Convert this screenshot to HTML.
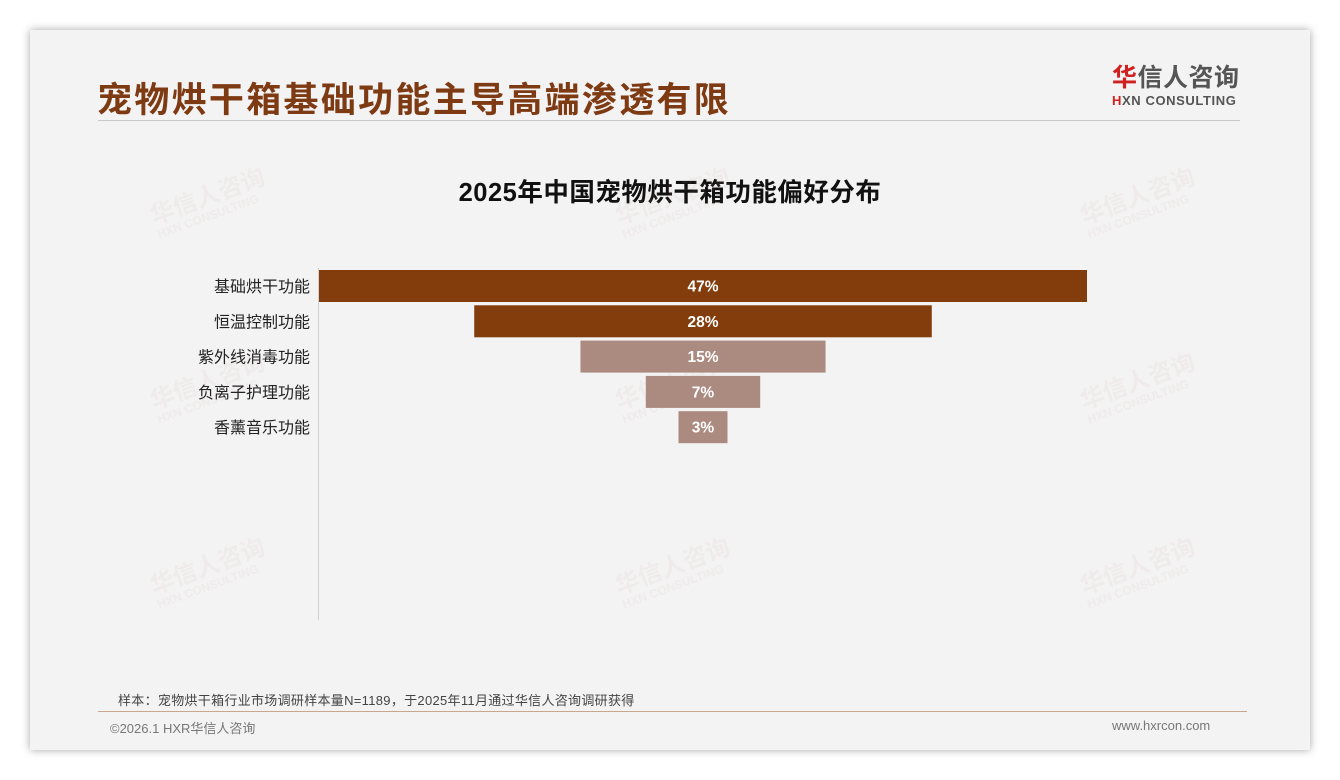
<!DOCTYPE html>
<html><head><meta charset="utf-8">
<style>
body{margin:0;width:1340px;height:780px;background:#fff;position:relative;overflow:hidden;font-family:"Liberation Sans","Noto Sans CJK SC",sans-serif}
.card{position:absolute;left:30px;top:30px;width:1280px;height:720px;background:#f3f3f3;box-shadow:0 0 8px rgba(0,0,0,0.35)}
.abs{position:absolute;white-space:nowrap}
.wm{position:absolute;transform:rotate(-20deg);color:rgba(200,150,150,0.09);font-weight:bold;line-height:1}
</style></head><body>
<div class="card"></div>
<div class="abs" style="left:97px;top:72px;font-size:35px;font-weight:bold;color:#7e3a12;letter-spacing:2.3px">宠物烘干箱基础功能主导高端渗透有限</div>
<div class="abs" style="left:1112px;top:63px;width:130px">
<div style="font-size:25px;font-weight:bold;color:#555;line-height:30px;letter-spacing:0.5px"><span style="color:#d02020">华</span>信人咨询</div>
<div style="font-size:13px;font-weight:bold;color:#555;letter-spacing:0.6px"><span style="color:#d02020">H</span>XN CONSULTING</div>
</div>
<div class="abs" style="left:98px;top:120px;width:1142px;height:1px;background:#c8c8c8"></div>
<div class="abs" style="left:370px;top:172px;width:600px;text-align:center;font-size:25.5px;font-weight:bold;color:#111;letter-spacing:0.5px">2025年中国宠物烘干箱功能偏好分布</div>
<div id="wms"></div>
<svg class="abs" style="left:0;top:0" width="1340" height="780" id="chart"></svg>
<div class="abs" style="left:118px;top:690px;font-size:13px;color:#444;letter-spacing:0.3px">样本：宠物烘干箱行业市场调研样本量N=1189，于2025年11月通过华信人咨询调研获得</div>
<div class="abs" style="left:98px;top:711px;width:1149px;height:1px;background:#c9a78f"></div>
<div class="abs" style="left:110px;top:718px;font-size:13px;color:#777">©2026.1 HXR华信人咨询</div>
<div class="abs" style="left:1112px;top:718px;font-size:13px;color:#777">www.hxrcon.com</div>
<script>
const categories=["基础烘干功能","恒温控制功能","紫外线消毒功能","负离子护理功能","香薰音乐功能"];
const values=[47,28,15,7,3];
const colors=["#833c0b","#833c0b","#ab8a80","#ab8a80","#ab8a80"];
const NS="http://www.w3.org/2000/svg";
const svg=document.getElementById('chart');
const cx=703, pxPer=768/47, top0=270, pitch=35.3, bh=32;
function xw(v){return v*pxPer;}
function yb(i){return top0+i*pitch;}
const ax=document.createElementNS(NS,'line');


ax.setAttribute('x1',318.5);ax.setAttribute('x2',318.5);ax.setAttribute('y1',268);ax.setAttribute('y2',620);
ax.setAttribute('stroke','#d0d0d0');svg.appendChild(ax);
categories.forEach((c,i)=>{
 const w=xw(values[i]);
 const r=document.createElementNS(NS,'rect');
 
 
 r.setAttribute('x',cx-w/2);r.setAttribute('y',yb(i));r.setAttribute('width',w);r.setAttribute('height',bh);r.setAttribute('fill',colors[i]);
 svg.appendChild(r);
 const t=document.createElementNS(NS,'text');
 
 
 t.setAttribute('x',cx);t.setAttribute('y',yb(i)+bh/2+5.5);t.setAttribute('text-anchor','middle');
 t.setAttribute('font-size','15.5');t.setAttribute('font-weight','bold');t.setAttribute('fill','#fff');
 t.textContent=values[i]+'%';svg.appendChild(t);
 const l=document.createElementNS(NS,'text');
 
 
 l.setAttribute('x',310);l.setAttribute('y',yb(i)+bh/2+6);l.setAttribute('text-anchor','end');
 l.setAttribute('font-size','16');l.setAttribute('fill','#222');
 l.textContent=c;svg.appendChild(l);
});
const wmPos=[[150,185],[615,185],[1080,185],[150,370],[615,370],[1080,370],[150,555],[615,555],[1080,555]];
const wmc=document.getElementById('wms');
wmPos.forEach(p=>{
 const d=document.createElement('div');
 d.className='wm';
 
 
 d.style.left=p[0]+'px';d.style.top=p[1]+'px';
 d.innerHTML='<div style="font-size:24px">华信人咨询</div><div style="font-size:12px">HXN CONSULTING</div>';
 wmc.appendChild(d);
});
</script>
</body></html>
